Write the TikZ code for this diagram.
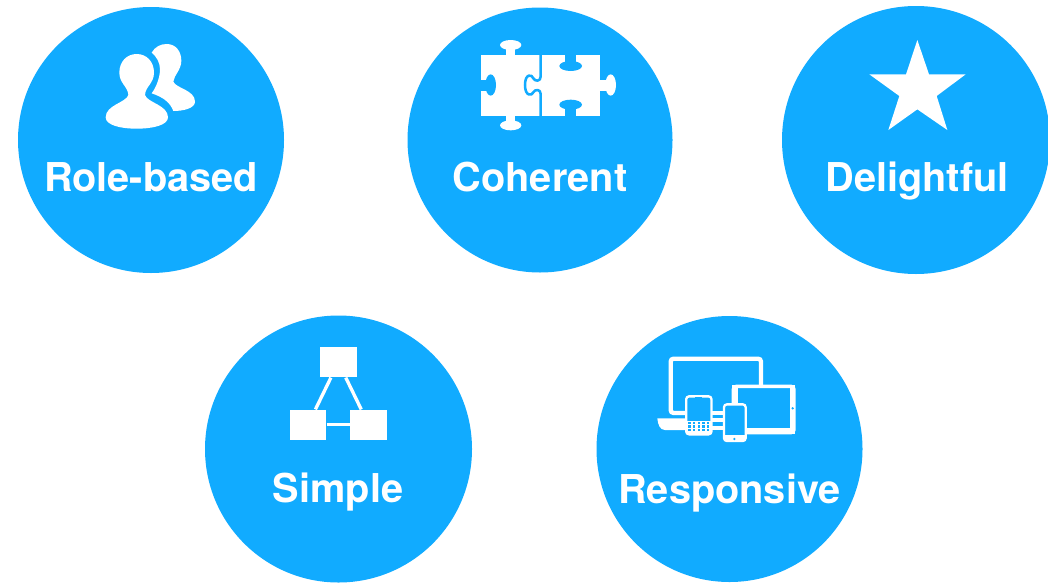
\documentclass[tikz,border=0pt]{standalone}
\usepackage{fontspec}
\setmainfont{TeX Gyre Heros}
\definecolor{sapblue}{HTML}{11ABFF}
\tikzset{
  x=0.75pt,y=-0.75pt,
  disc/.style={circle,fill=sapblue,inner sep=0pt,minimum size=#1*0.75pt},
  lbl/.style={text=white,font=\fontsize{29.8}{31}\selectfont\bfseries,inner sep=0pt,anchor=base},
  icon/.style={shift={#1},x=0.25pt,y=-0.25pt},
  wf/.style={fill=white,draw=none},
  bf/.style={fill=sapblue,draw=none},
  boxn/.style={fill=white,inner sep=0pt,minimum width=#1*0.25pt,minimum height=22.5pt,rectangle},
  wline/.style={draw=white,line width=2.5pt},
  dev/.style={draw=white,line width=#1*0.25pt,rounded corners=2.2pt},
}
\begin{document}
\begin{tikzpicture}
\useasboundingbox (0,0) rectangle (1048,582);
\clip (0,0) rectangle (1048,582);
\fill[white] (0,0) rectangle (1048,582);
\node[disc=266] (c1) at (151,140) {};
\node[disc=265] (c2) at (540,140) {};
\node[disc=268] (c3) at (916,140) {};
\node[disc=267] (c4) at (338.5,449) {};
\node[disc=266] (c5) at (729.5,449) {};
\node[lbl] (t1) at (151,191) {Role-based};
\node[lbl] (t2) at (540,191) {Coherent};
\node[lbl] (t3) at (917,191) {Delightful};
\node[lbl] (t4) at (338,502) {Simple};
\node[lbl] (t5) at (729.5,503) {Responsive};
% people
\begin{scope}[icon={(90,30)}]
\fill[wf] (185,68) .. controls (195,50) and (212,42) .. (230,42) .. controls (258,42) and (274,65) .. (274,92) .. controls (274,120) and (252,135) .. (250,155) .. controls (258,175) and (315,180) .. (315,215) .. controls (315,235) and (280,243) .. (250,243) .. controls (240,215) and (215,200) .. (185,190) .. controls (200,170) and (210,140) .. (210,118) .. controls (210,98) and (200,80) .. (185,68) -- cycle;
\fill[wf] (140,72) .. controls (170,72) and (192,95) .. (192,128) .. controls (192,160) and (166,170) .. (165,195) .. controls (172,218) and (234,225) .. (234,262) .. controls (234,285) and (190,296) .. (140,296) .. controls (90,296) and (47,285) .. (47,262) .. controls (47,225) and (108,218) .. (115,195) .. controls (114,170) and (88,160) .. (88,128) .. controls (88,95) and (110,72) .. (140,72) -- cycle;
\end{scope}
% puzzle
\begin{scope}[icon={(470,30)}]
\fill[wf] (32,75) rectangle (390,257);
\fill[wf] (108,80) rectangle (136,50);
\fill[wf] (122,45) ellipse[x radius=32,y radius=15];
\fill[wf] (108,252) rectangle (136,282);
\fill[wf] (122,286) ellipse[x radius=32,y radius=15];
\fill[wf] (385,150) rectangle (412,182);
\fill[wf] (422,165) ellipse[x radius=16,y radius=32];
\fill[bf] (28,150) rectangle (55,182);
\fill[bf] (62,165) ellipse[x radius=16,y radius=32];
\fill[bf] (285,70) rectangle (318,100);
\fill[bf] (302,108) ellipse[x radius=34,y radius=15];
\fill[bf] (285,262) rectangle (318,232);
\fill[bf] (302,224) ellipse[x radius=34,y radius=15];
\draw[sapblue,line width=1.9pt,line join=round] (212,70) -- (212,140) .. controls (212,155) and (195,155) .. (190,145) .. controls (186,132) and (165,130) .. (165,165) .. controls (165,200) and (186,198) .. (190,187) .. controls (195,177) and (212,177) .. (212,192) -- (212,262);
\end{scope}
% star
\begin{scope}[icon={(860,30)}]
\fill[wf] (172,30) -- (207,133) -- (317,133) -- (230,198) -- (262,300) -- (172,238) -- (85,300) -- (118,198) -- (28,133) -- (138,133) -- cycle;
\end{scope}
% simple
\begin{scope}[icon={(280,340)}]
\node[boxn=112] (bt) at (175,67) {};
\node[boxn=110] (bl) at (84,254) {};
\node[boxn=110] (br) at (266,254) {};
\draw[wline] (bt) -- (bl);
\draw[wline] (bt) -- (br);
\draw[wline] (bl) -- (br);
\end{scope}
% devices
\begin{scope}[icon={(650,345)}]
\draw[dev=13] (105,204) -- (62,204) -- (62,41) -- (333,41) -- (333,122);
\fill[wf] (22,220) -- (106,220) -- (106,255) -- (45,255) .. controls (30,255) and (24,240) .. (22,220) -- cycle;
\fill[wf] (183,197) rectangle (224,210);
\fill[wf] (183,219) rectangle (224,231);
\fill[wf] (183,243) rectangle (224,255);
\draw[dev=10,fill=sapblue] (250,124) rectangle (432,263);
\fill[wf] (285,250) rectangle (432,266);
\fill[wf] (246,120) rectangle (264,182);
\fill[wf] (420,120) rectangle (436,266);
\fill[bf] (264,137) rectangle (420,250);
\fill[bf] (428,190) circle[radius=4];
\draw[dev=7,fill=sapblue] (108.5,154) rectangle (184.5,268);
\fill[wf] (110,228) rectangle (183,268);
\foreach \gx in {118,132,146,160,174}{\fill[bf] (\gx-3,231) rectangle (\gx+4,238);\fill[bf] (\gx-3,241) rectangle (\gx+4,248);\fill[bf] (\gx-3,251) rectangle (\gx+4,258);}
\fill[bf] (135,157) rectangle (155,161);
\draw[dev=7,fill=sapblue] (222,178) rectangle (287,288);
\fill[wf] (222,270) rectangle (287,288);
\fill[bf] (253,282) circle[radius=4];
\end{scope}
\end{tikzpicture}
\end{document}
